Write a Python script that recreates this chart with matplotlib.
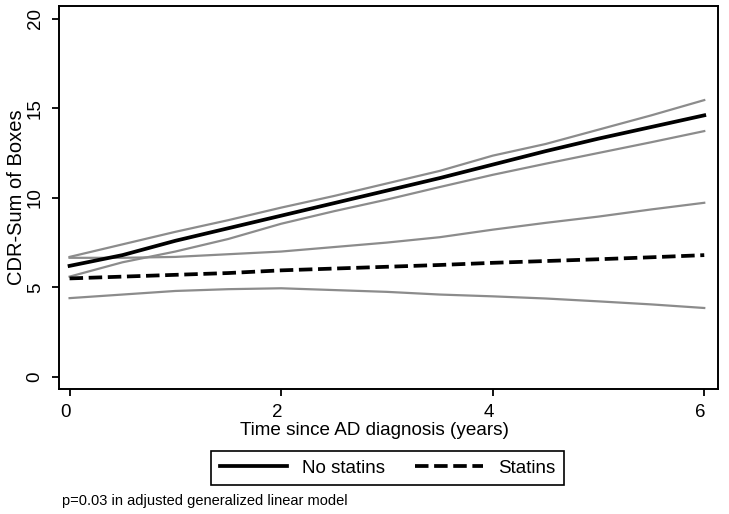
import matplotlib
matplotlib.use("Agg")
import matplotlib.pyplot as plt
from matplotlib import font_manager
from matplotlib.transforms import ScaledTranslation

# pick a narrow Arial-like font if present
names = {f.name for f in font_manager.fontManager.ttflist}
fam = "Liberation Sans Narrow" if "Liberation Sans Narrow" in names else "Liberation Sans"
plt.rcParams["font.family"] = [fam, "DejaVu Sans"]

# years since AD diagnosis
years = [0, 0.5, 1, 1.5, 2, 2.5, 3, 3.5, 4, 4.5, 5, 5.5, 6]

# CDR-Sum of Boxes, no statins: mean and 95% CI
ns_mean = [6.2, 6.8, 7.6, 8.3, 9.0, 9.7, 10.4, 11.1, 11.85, 12.6, 13.3, 13.95, 14.6]
ns_hi = [6.7, 7.4, 8.1, 8.75, 9.45, 10.1, 10.8, 11.5, 12.35, 13.0, 13.8, 14.6, 15.45]
ns_lo = [5.6, 6.4, 7.0, 7.7, 8.55, 9.25, 9.9, 10.6, 11.28, 11.9, 12.5, 13.1, 13.72]

# statins: mean and 95% CI
st_mean = [5.5, 5.6, 5.7, 5.8, 5.95, 6.05, 6.15, 6.25, 6.37, 6.47, 6.57, 6.68, 6.8]
st_hi = [6.65, 6.65, 6.7, 6.85, 7.0, 7.25, 7.5, 7.8, 8.22, 8.6, 8.95, 9.35, 9.72]
st_lo = [4.4, 4.6, 4.8, 4.9, 4.95, 4.85, 4.75, 4.6, 4.5, 4.38, 4.22, 4.05, 3.85]

fig = plt.figure(figsize=(7.29, 5.14), dpi=100)
ax = fig.add_axes([59 / 729, 1 - 389 / 514, 659 / 729, 383 / 514])

grey = "#8c8c8c"
for s in (ns_hi, ns_lo, st_hi, st_lo):
    ax.plot(years, s, color=grey, lw=1.6)
l1, = ax.plot(years, ns_mean, color="black", lw=2.7, label="No statins")
l2, = ax.plot(years, st_mean, color="black", lw=2.7, dashes=(3.6, 1.5), label="Statins")

ax.set_xlim(-0.1, 6.13)
ax.set_ylim(-0.67, 20.7)
ax.set_xticks([0, 2, 4, 6])
ax.set_yticks([0, 5, 10, 15, 20])
ax.tick_params(direction="out", length=5, width=1.3, labelsize=13.5, pad=6)
for lab in ax.get_yticklabels():
    lab.set_rotation(90)
    lab.set_va("center")
# x tick labels sit a little left of their ticks in the original
shift = ScaledTranslation(-4 / 100, 0, fig.dpi_scale_trans)
for lab in ax.get_xticklabels():
    lab.set_transform(lab.get_transform() + shift)
for sp in ax.spines.values():
    sp.set_linewidth(1.4)

ax.set_xlabel("Time since AD diagnosis (years)", fontsize=13.6, labelpad=-1)
ax.xaxis.set_label_coords((374 - 59) / 659, -0.085)
ax.set_ylabel("CDR-Sum of Boxes", fontsize=14.5, labelpad=0.8)

leg = fig.legend(handles=[l1, l2], loc="center", bbox_to_anchor=(387.5 / 729, 1 - 468 / 514),
                 ncol=2, fontsize=13.5, handlelength=3.6, columnspacing=1.6,
                 fancybox=False, edgecolor="black", framealpha=1, borderpad=0.45)
leg.get_frame().set_linewidth(1.2)

fig.text(62 / 729, 1 - 501 / 514, "p=0.03 in adjusted generalized linear model",
         fontsize=10.5, va="center", ha="left")

fig.savefig("out.png", dpi=100)
